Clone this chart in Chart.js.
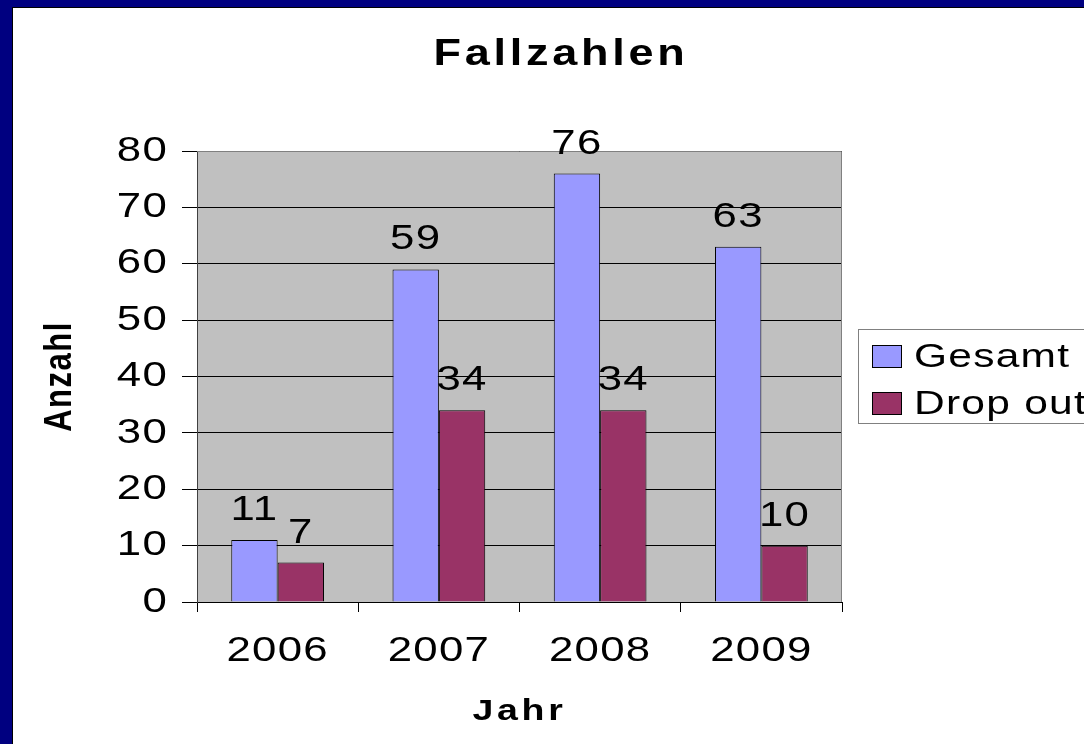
<!DOCTYPE html>
<html>
<head>
<meta charset="utf-8">
<script src="https://cdn.jsdelivr.net/npm/chart.js@4.4.0/dist/chart.umd.min.js"></script>
<style>
    html, body { margin: 0; padding: 0; width: 1084px; height: 744px; overflow: hidden; background: #000080; }
    #wrap { position: absolute; left: 12px; top: 7px; width: 1072px; height: 737px;
            border-left: 1px solid #000; border-top: 1px solid #000; background: #fff; }
    canvas { display: block; }
</style>
</head>
<body>
<div id="wrap"><canvas id="fall-chart" width="1072" height="737"></canvas></div>
<script>
// Werte aus dem Diagramm
const years = ['2006', '2007', '2008', '2009'];
const gesamt = [11, 59, 76, 63];
const dropOut = [7, 34, 34, 10];
const seriesNames = ['Gesamt', 'Drop out'];
const yMin = 0;
const yMax = 80;
const yStep = 10;

const chartTitle = 'Fallzahlen';
const xTitle = 'Jahr';
const yTitle = 'Anzahl';

const FONT = '"Liberation Sans", Arial, sans-serif';
const SX = 1.25;          // the old slide stretched all text sideways
const SPACE = '1px';
const SPACE_BOLD = '3px';

Chart.defaults.font.family = FONT;
Chart.defaults.color = '#000';

// wide, spaced text like the PowerPoint export
const proto = CanvasRenderingContext2D.prototype;
const rawFill = proto.fillText;
const rawMeasure = proto.measureText;
proto.fillText = function(text, x, y, maxWidth) {
    this.save();
    this.letterSpacing = /bold/.test(this.font) ? SPACE_BOLD : SPACE;
    this.translate(x, y);
    this.scale(SX, 1);
    if (maxWidth !== undefined) rawFill.call(this, text, 0, 0, maxWidth / SX);
    else rawFill.call(this, text, 0, 0);
    this.restore();
};
proto.measureText = function(text) {
    this.save();
    this.letterSpacing = /bold/.test(this.font) ? SPACE_BOLD : SPACE;
    const m = rawMeasure.call(this, text);
    this.restore();
    return {
        width: m.width * SX,
        actualBoundingBoxLeft: m.actualBoundingBoxLeft * SX,
        actualBoundingBoxRight: m.actualBoundingBoxRight * SX,
        actualBoundingBoxAscent: m.actualBoundingBoxAscent,
        actualBoundingBoxDescent: m.actualBoundingBoxDescent
    };
};

const plotBgPlugin = {
    id: 'plotBg',
    beforeDraw(chart) {
        const { ctx, chartArea: a } = chart;
        ctx.save();
        ctx.fillStyle = '#c0c0c0';
        ctx.fillRect(a.left, a.top, a.right - a.left, a.bottom - a.top);
        ctx.restore();
    },
    beforeDatasetsDraw(chart) {
        const { ctx, chartArea: a } = chart;
        ctx.save();
        ctx.strokeStyle = '#808080';
        ctx.lineWidth = 1;
        ctx.beginPath();
        ctx.moveTo(a.left, a.top + 0.5);
        ctx.lineTo(a.right - 0.5, a.top + 0.5);
        ctx.lineTo(a.right - 0.5, a.bottom);
        ctx.stroke();
        ctx.restore();
    }
};

const valueLabels = {
    id: 'valueLabels',
    afterDatasetsDraw(chart) {
        const ctx = chart.ctx;
        ctx.save();
        ctx.font = '35px ' + FONT;
        ctx.fillStyle = '#000';
        ctx.textAlign = 'center';
        ctx.textBaseline = 'alphabetic';
        chart.data.datasets.forEach((ds, i) => {
            chart.getDatasetMeta(i).data.forEach((bar, j) => {
                ctx.fillText(String(ds.data[j]), bar.x, bar.y - 20);
            });
        });
        ctx.restore();
    }
};

const sideParts = {
    id: 'sideParts',
    afterDraw(chart) {
        const { ctx, chartArea: a } = chart;

        // chart title
        ctx.save();
        ctx.font = 'bold 36px ' + FONT;
        ctx.fillStyle = '#000';
        ctx.textAlign = 'center';
        ctx.textBaseline = 'middle';
        ctx.fillText(chartTitle, 548, 47);
        ctx.restore();

        // y axis title
        ctx.save();
        ctx.letterSpacing = '1.5px';
        ctx.font = 'bold 31px ' + FONT;
        ctx.fillStyle = '#000';
        ctx.textAlign = 'center';
        ctx.textBaseline = 'middle';
        ctx.translate(47, (a.top + a.bottom) / 2);
        ctx.scale(SX, 1);
        ctx.rotate(-Math.PI / 2);
        rawFill.call(ctx, yTitle, 0, 0);
        ctx.restore();

        // legend
        ctx.save();
        ctx.strokeStyle = '#808080';
        ctx.lineWidth = 1;
        ctx.strokeRect(845.5, 321.5, 300, 94);
        ctx.font = '34px ' + FONT;
        ctx.textAlign = 'left';
        ctx.textBaseline = 'alphabetic';
        chart.data.datasets.forEach((ds, i) => {
            const y = 337 + i * 47;
            ctx.fillStyle = ds.backgroundColor;
            ctx.fillRect(859, y, 29, 22);
            ctx.strokeStyle = '#000';
            ctx.strokeRect(859.5, y + 0.5, 29, 22);
            ctx.fillStyle = '#000';
            ctx.fillText(ds.label, 901, y + 22);
        });
        ctx.restore();
    }
};

const ctx = document.getElementById('fall-chart').getContext('2d');
new Chart(ctx, {
    type: 'bar',
    data: {
        labels: years,
        datasets: [{
            label: seriesNames[0],
            data: gesamt,
            backgroundColor: '#9999ff',
            borderColor: '#000',
            borderWidth: 1
        }, {
            label: seriesNames[1],
            data: dropOut,
            backgroundColor: '#993366',
            borderColor: '#000',
            borderWidth: 1
        }]
    },
    options: {
        responsive: false,
        animation: false,
        events: [],
        layout: { padding: { left: 0, top: 143, right: 243, bottom: 0 } },
        datasets: {
            bar: { barPercentage: 1.0, categoryPercentage: 0.575 }
        },
        scales: {
            x: {
                offset: true,
                grid: {
                    offset: true,
                    drawOnChartArea: false,
                    color: '#000',
                    tickLength: 10
                },
                border: { color: '#000' },
                ticks: { font: { size: 35 }, padding: 18, color: '#000' },
                title: {
                    display: true,
                    text: xTitle,
                    font: { size: 30, weight: 'bold' },
                    padding: { top: 0, bottom: 15 }
                },
                afterFit(scale) { scale.height = 143; }
            },
            y: {
                min: yMin,
                max: yMax,
                ticks: { stepSize: yStep, font: { size: 35 }, padding: 14, color: '#000' },
                grid: { color: '#000', tickLength: 15 },
                border: { color: '#404040' },
                afterFit(scale) { scale.width = 184; }
            }
        },
        plugins: {
            legend: { display: false },
            tooltip: { enabled: false },
            title: { display: false }
        }
    },
    plugins: [plotBgPlugin, valueLabels, sideParts]
});
</script>
</body>
</html>
